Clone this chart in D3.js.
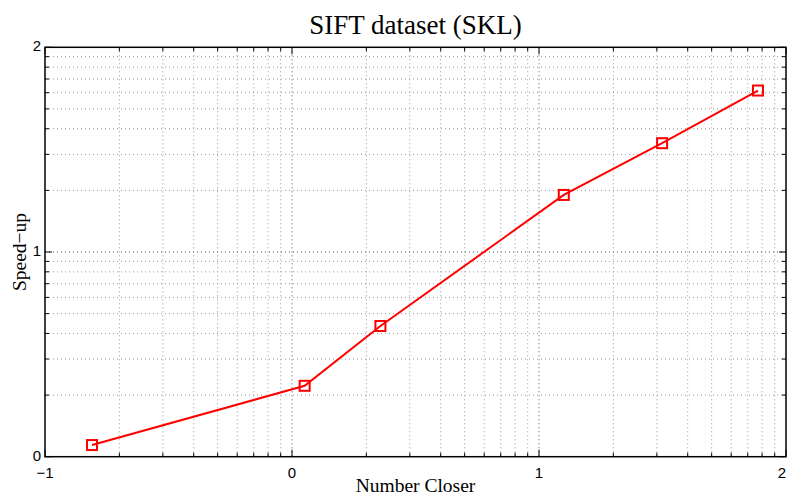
<!DOCTYPE html>
<html>
<head>
<meta charset="utf-8">
<script src="https://cdn.jsdelivr.net/npm/d3@7"></script>
<style>
  html, body { margin: 0; padding: 0; background: #fff; }
  svg { display: block; }
</style>
</head>
<body>
<svg id="chart" width="787" height="495"></svg>
<script>
// Speed-up versus number of closer points (log-log)
const closer = [0.155, 1.125, 2.28, 12.6, 31.5, 77];
const speedup = [1.14, 2.22, 4.35, 19, 34, 61.5];

// Decade ticks, labelled with their exponent
const xDecades = [0.1, 1, 10, 100];
const yDecades = [1, 10, 100];
const xTickLabels = ["\u22121", "0", "1", "2"];
const yTickLabels = ["0", "1", "2"];

const titleText = "SIFT dataset (SKL)";
const xLabelText = "Number Closer";
const yLabelText = "Speed\u2212up";

const W = 787;
const svg = d3.select("#chart");
const plotL = 45, plotR = 786, plotT = 47.3, plotB = 456.7;

const x = d3.scaleLog().domain([0.1, 100]).range([plotL, plotR]);
const y = d3.scaleLog().domain([1, 100]).range([plotB, plotT]);

// every 1..9 multiple inside each decade
function logTicks(decades) {
  const out = [];
  for (let i = 0; i < decades.length; i++) {
    const d = decades[i];
    if (i === decades.length - 1) { out.push(d); break; }
    for (let k = 1; k <= 9; k++) out.push(+(k * d).toPrecision(3));
  }
  return out;
}
const xAll = logTicks(xDecades);
const yAll = logTicks(yDecades);
const isMajor = (v, decs) => decs.some(d => Math.abs(v - d) / d < 1e-9);

// dotted grid
const grid = svg.append("g").attr("fill", "none");
grid.selectAll("line.gx").data(xAll.filter(v => v > 0.1 && v < 100)).join("line")
  .attr("x1", d => x(d)).attr("x2", d => x(d))
  .attr("y1", plotT).attr("y2", plotB)
  .attr("stroke", d => isMajor(d, xDecades) ? "#555" : "#999")
  .attr("stroke-width", 1)
  .attr("stroke-dasharray", "1,3");
grid.selectAll("line.gy").data(yAll.filter(v => v > 1 && v < 100)).join("line")
  .attr("y1", d => y(d)).attr("y2", d => y(d))
  .attr("x1", plotL).attr("x2", plotR)
  .attr("stroke", d => isMajor(d, yDecades) ? "#555" : "#999")
  .attr("stroke-width", 1)
  .attr("stroke-dasharray", "1,3");

// inward tick marks on all four sides
const ticks = svg.append("g").attr("stroke", "#000").attr("stroke-width", 1);
xAll.forEach(v => {
  const len = isMajor(v, xDecades) ? 7 : 4;
  ticks.append("line").attr("x1", x(v)).attr("x2", x(v)).attr("y1", plotB).attr("y2", plotB - len);
  ticks.append("line").attr("x1", x(v)).attr("x2", x(v)).attr("y1", plotT).attr("y2", plotT + len);
});
yAll.forEach(v => {
  const len = isMajor(v, yDecades) ? 7 : 4;
  ticks.append("line").attr("y1", y(v)).attr("y2", y(v)).attr("x1", plotL).attr("x2", plotL + len);
  ticks.append("line").attr("y1", y(v)).attr("y2", y(v)).attr("x1", plotR).attr("x2", plotR - len);
});

// box
svg.append("rect")
  .attr("x", plotL).attr("y", plotT)
  .attr("width", plotR - plotL).attr("height", plotB - plotT)
  .attr("fill", "none").attr("stroke", "#000").attr("stroke-width", 1.5);

// tick labels (the last x label is kept inside the page edge)
const tickFont = "'Liberation Sans', Arial, Helvetica, sans-serif";
const last = xDecades.length - 1;
svg.append("g").selectAll("text").data(xDecades).join("text")
  .attr("x", (d, i) => i === last ? W - 1 : x(d)).attr("y", 478)
  .attr("text-anchor", (d, i) => i === last ? "end" : "middle")
  .attr("font-family", tickFont).attr("font-size", 15)
  .text((d, i) => xTickLabels[i]);
svg.append("g").selectAll("text").data(yDecades).join("text")
  .attr("x", 41).attr("y", d => y(d) + 4)
  .attr("text-anchor", "end")
  .attr("font-family", tickFont).attr("font-size", 15)
  .text((d, i) => yTickLabels[i]);

// titles
const serif = "'Liberation Serif', 'Times New Roman', serif";
svg.append("text").attr("x", (plotL + plotR) / 2).attr("y", 34)
  .attr("text-anchor", "middle").attr("font-family", serif).attr("font-size", 27)
  .text(titleText);
svg.append("text").attr("x", (plotL + plotR) / 2).attr("y", 492)
  .attr("text-anchor", "middle").attr("font-family", serif).attr("font-size", 19.5)
  .text(xLabelText);
svg.append("text")
  .attr("transform", `translate(26,${(plotT + plotB) / 2}) rotate(-90)`)
  .attr("text-anchor", "middle").attr("font-family", serif).attr("font-size", 19.5)
  .text(yLabelText);

// series
const pts = closer.map((c, i) => [c, speedup[i]]);
svg.append("path").datum(pts)
  .attr("fill", "none").attr("stroke", "#ff0000").attr("stroke-width", 2)
  .attr("d", d3.line().x(d => x(d[0])).y(d => y(d[1])));
const s = 10;
svg.append("g").selectAll("rect").data(pts).join("rect")
  .attr("x", d => x(d[0]) - s / 2).attr("y", d => y(d[1]) - s / 2)
  .attr("width", s).attr("height", s)
  .attr("fill", "none").attr("stroke", "#ff0000").attr("stroke-width", 2);
</script>
</body>
</html>
